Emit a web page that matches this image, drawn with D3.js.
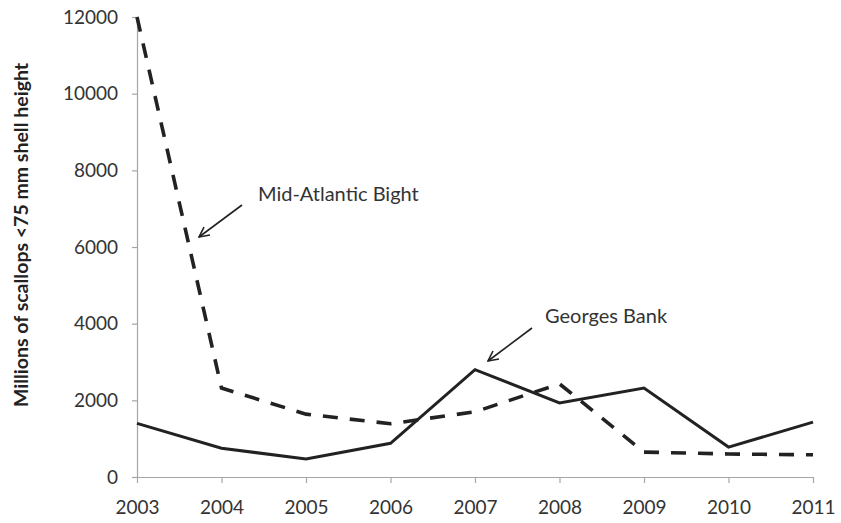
<!DOCTYPE html>
<html>
<head>
<meta charset="utf-8">
<script src="https://cdn.jsdelivr.net/npm/d3@7"></script>
<style>
  body { margin: 0; background: #fff; }
  svg { display: block; }
  .tick text { font-family: Lato, "Open Sans", sans-serif; font-size: 19px; fill: #333; }
  .axis path, .axis line { stroke: #a6a6a6; stroke-width: 1.2; }
</style>
</head>
<body>
<svg id="chart" width="841" height="523"></svg>
<script>
var years = [2003, 2004, 2005, 2006, 2007, 2008, 2009, 2010, 2011];
var midAtlantic = [12000, 2320, 1640, 1390, 1700, 2430, 650, 600, 580];
var georgesBank = [1400, 750, 470, 880, 2800, 1930, 2320, 780, 1430];
var yTicks = [0, 2000, 4000, 6000, 8000, 10000, 12000];

var margin = {top: 17, right: 28, bottom: 46, left: 137},
    width = 841 - margin.left - margin.right,
    height = 523 - margin.top - margin.bottom;

var svg = d3.select('#chart');
var g = svg.append('g')
    .attr('transform', 'translate(' + margin.left + ',' + margin.top + ')');

var x = d3.scalePoint()
    .domain(years)
    .range([0, width]);

var y = d3.scaleLinear()
    .domain([0, 12000])
    .range([height, 0]);

// axes
g.append('g')
    .attr('class', 'axis')
    .call(d3.axisLeft(y).tickValues(yTicks).tickFormat(d3.format('d'))
        .tickSize(5).tickPadding(14).tickSizeOuter(0));

g.append('g')
    .attr('class', 'axis')
    .attr('transform', 'translate(0,' + height + ')')
    .call(d3.axisBottom(x).tickFormat(d3.format('d'))
        .tickSize(6).tickPadding(18).tickSizeOuter(0));

var line = d3.line()
    .x(function(d, i) { return x(years[i]); })
    .y(function(d) { return y(d); });

g.append('path')
    .datum(midAtlantic)
    .attr('d', line)
    .attr('fill', 'none')
    .attr('stroke', '#222')
    .attr('stroke-width', 3.6)
    .attr('stroke-dasharray', '15,12');

g.append('path')
    .datum(georgesBank)
    .attr('d', line)
    .attr('fill', 'none')
    .attr('stroke', '#222')
    .attr('stroke-width', 3);

// y axis title
svg.append('text')
    .attr('transform', 'translate(28,235) rotate(-90)')
    .attr('text-anchor', 'middle')
    .style('font-family', 'Lato, "Open Sans", sans-serif')
    .style('font-weight', 'bold')
    .style('font-size', '19.5px')
    .style('fill', '#222')
    .text('Millions of scallops <75 mm shell height');

// annotations with arrows
var defs = svg.append('defs');
defs.append('marker')
    .attr('id', 'arrow')
    .attr('viewBox', '0 0 12 12')
    .attr('refX', 11)
    .attr('refY', 6)
    .attr('markerWidth', 12)
    .attr('markerHeight', 12)
    .attr('markerUnits', 'userSpaceOnUse')
    .attr('orient', 'auto')
    .append('path')
    .attr('d', 'M1,1 L11,6 L1,11')
    .attr('fill', 'none')
    .attr('stroke', '#222')
    .attr('stroke-width', 1.6);

var notes = [
    {label: 'Mid-Atlantic Bight', tx: 258, ty: 201, x1: 242, y1: 205, x2: 199, y2: 237},
    {label: 'Georges Bank', tx: 545, ty: 323, x1: 532, y1: 328, x2: 488, y2: 361}
];

var note = svg.selectAll('.note')
    .data(notes)
    .enter().append('g')
    .attr('class', 'note');

note.append('text')
    .attr('x', function(d) { return d.tx; })
    .attr('y', function(d) { return d.ty; })
    .style('font-family', 'Lato, "Open Sans", sans-serif')
    .style('font-size', '20px')
    .style('fill', '#333')
    .text(function(d) { return d.label; });

note.append('line')
    .attr('x1', function(d) { return d.x1; })
    .attr('y1', function(d) { return d.y1; })
    .attr('x2', function(d) { return d.x2; })
    .attr('y2', function(d) { return d.y2; })
    .attr('stroke', '#222')
    .attr('stroke-width', 1.6)
    .attr('marker-end', 'url(#arrow)');
</script>
</body>
</html>
